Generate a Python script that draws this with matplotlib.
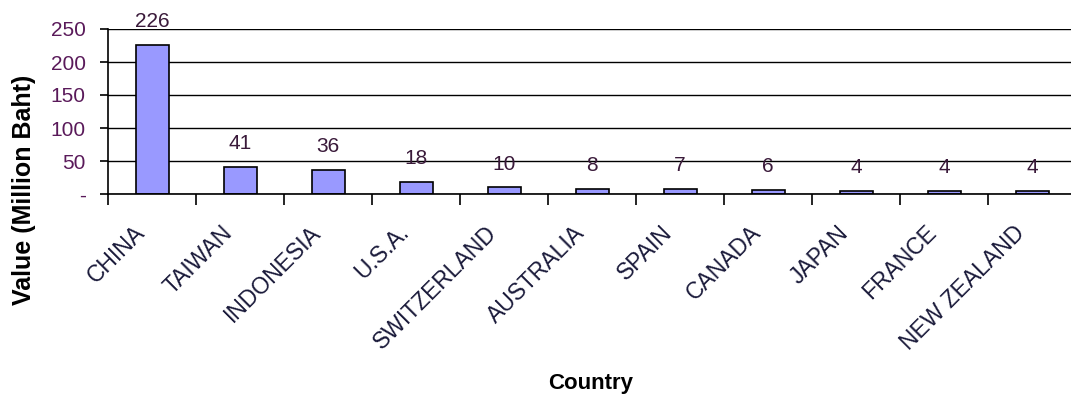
import matplotlib
matplotlib.use("Agg")
import matplotlib.pyplot as plt
from matplotlib.ticker import FixedLocator, FuncFormatter
import matplotlib.transforms as mtransforms

countries = ["CHINA", "TAIWAN", "INDONESIA", "U.S.A.", "SWITZERLAND", "AUSTRALIA",
             "SPAIN", "CANADA", "JAPAN", "FRANCE", "NEW ZEALAND"]
values = [226, 41, 36, 18, 10, 8, 7, 6, 4, 4, 4]
value_labels = ["226", "41", "36", "18", "10", "8", "7", "6", "4", "4", "4"]
yticks = [0, 50, 100, 150, 200, 250]

plt.rcParams['font.family'] = ['Liberation Sans', 'DejaVu Sans']

W, H = 1071, 401
fig = plt.figure(figsize=(W / 100, H / 100), dpi=100)
ax = fig.add_axes([108 / W, 1 - 194 / H, 968 / W, 165 / H])

x = list(range(len(countries)))
ax.bar(x, values, width=0.375, color="#9999FF", edgecolor="black", linewidth=1.2, zorder=3)
ax.set_xlim(-0.5, len(countries) - 0.5)
ax.set_ylim(0, 250)

ax.yaxis.set_major_locator(FixedLocator(yticks))
ax.yaxis.set_major_formatter(FuncFormatter(lambda v, p: "-" if v == 0 else f"{int(v)}"))
ax.grid(axis="y", color="black", linewidth=1.0, zorder=1)
ax.set_axisbelow(True)

for s in ["top", "right"]:
    ax.spines[s].set_visible(False)
for s in ["left", "bottom"]:
    ax.spines[s].set_color("black")
    ax.spines[s].set_linewidth(1.2)
    ax.spines[s].set_zorder(4)

ax.tick_params(axis="y", direction="out", length=6, width=1.2, labelsize=15,
               labelcolor="#5a1a5a", pad=10)
ax.set_xticks([i - 0.5 for i in range(len(countries) + 1)])
ax.set_xticklabels([])
ax.tick_params(axis="x", direction="out", length=8, width=1.2)

offset = mtransforms.ScaledTranslation(-19 / 100, -27 / 100, fig.dpi_scale_trans)
for i, name in enumerate(countries):
    ax.text(i, 0, name, rotation=45, ha="right", va="top", rotation_mode="anchor",
            fontsize=16.5, color="#1a1a3a",
            transform=ax.get_xaxis_transform() + offset)

for i, (v, lab) in enumerate(zip(values, value_labels)):
    ax.annotate(lab, (i, v), xytext=(0, 10), textcoords="offset points",
                ha="center", va="bottom", fontsize=15, color="#3a1a3a", annotation_clip=False)

fig.text(591 / W, 1 - 383 / H, "Country", ha="center", va="center",
         fontsize=16, fontweight="bold")
fig.text(24 / W, 1 - 190 / H, "Value (Million Baht)", ha="center", va="center",
         rotation=90, fontsize=18, fontweight="bold")

fig.savefig("out.png", dpi=100)
